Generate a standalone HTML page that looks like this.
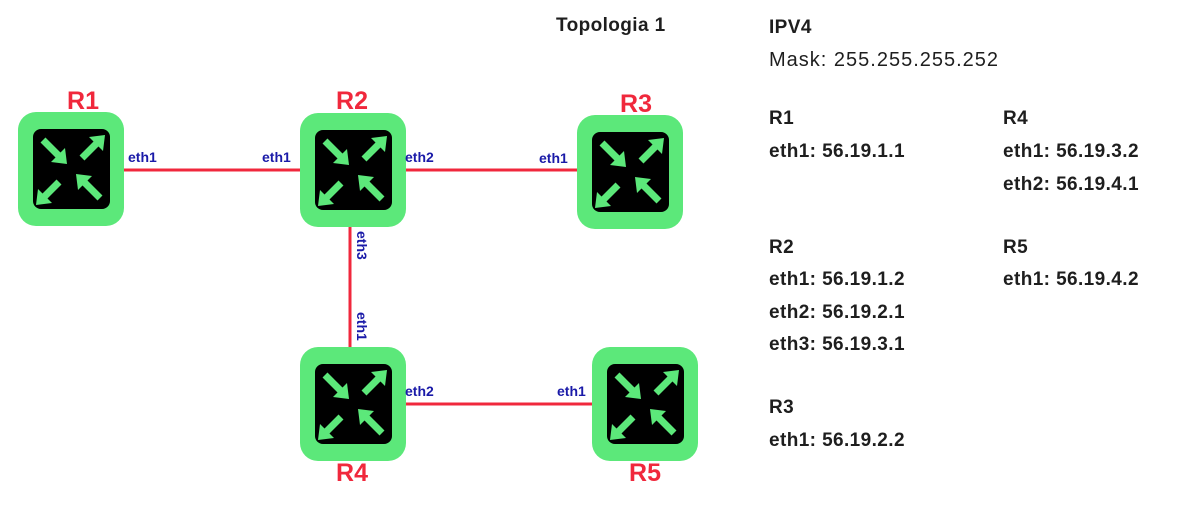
<!DOCTYPE html>
<html><head><style>
body{margin:0;background:#fff;}
svg{display:block}
.t{font-family:"Liberation Sans",sans-serif;font-size:19px;fill:#1e1e1e;letter-spacing:0.4px}
.b{font-weight:bold}
.m{font-size:20px;letter-spacing:1px}
.r{font-family:"Liberation Sans",sans-serif;font-weight:bold;font-size:25px;fill:#f0283c;text-anchor:middle}
.e{font-family:"Liberation Sans",sans-serif;font-weight:bold;font-size:14px;fill:#1a1aa8}
</style></head><body>
<svg width="1179" height="509" viewBox="0 0 1179 509" xmlns="http://www.w3.org/2000/svg">
<defs>
<g id="rt">
<rect x="0" y="0" width="106" height="114" rx="18" fill="#5ce87a"/>
<rect x="15" y="17" width="77" height="80" rx="8" fill="#000"/>
<g stroke="#5ce87a" stroke-width="7" fill="#5ce87a">
<line x1="25" y1="28" x2="41" y2="44"/><polygon points="49,52 33,50 47,36" stroke="none"/>
<line x1="80" y1="30" x2="64" y2="46"/><polygon points="87,23 71,25 85,39" stroke="none"/>
<line x1="25" y1="86" x2="41" y2="70"/><polygon points="18,93 20,77 34,91" stroke="none"/>
<line x1="82" y1="86" x2="66" y2="70"/><polygon points="58,62 74,64 60,78" stroke="none"/>
</g>
</g>
</defs>
<g stroke="#f0283c" stroke-width="3">
<line x1="124" y1="170" x2="300" y2="170"/>
<line x1="406" y1="170" x2="577" y2="170"/>
<line x1="350" y1="227" x2="350" y2="347"/>
<line x1="406" y1="404" x2="592" y2="404"/>
</g>
<use href="#rt" x="18" y="112"/>
<use href="#rt" x="300" y="113"/>
<use href="#rt" x="577" y="115"/>
<use href="#rt" x="300" y="347"/>
<use href="#rt" x="592" y="347"/>
<text class="r" x="83" y="109">R1</text>
<text class="r" x="352" y="109">R2</text>
<text class="r" x="636" y="112">R3</text>
<text class="r" x="352" y="481">R4</text>
<text class="r" x="645" y="481">R5</text>
<text class="e" x="128" y="162">eth1</text>
<text class="e" x="262" y="162">eth1</text>
<text class="e" x="405" y="162">eth2</text>
<text class="e" x="539" y="163">eth1</text>
<text class="e" x="405" y="396">eth2</text>
<text class="e" x="557" y="396">eth1</text>
<text class="e" transform="translate(357,231) rotate(90)">eth3</text>
<text class="e" transform="translate(357,312) rotate(90)">eth1</text>
<text class="t b" x="556" y="31">Topologia 1</text>
<text class="t b" x="769" y="33">IPV4</text>
<text class="t m" x="769" y="66">Mask: 255.255.255.252</text>
<text class="t b" x="769" y="124">R1</text>
<text class="t b" x="769" y="157">eth1: 56.19.1.1</text>
<text class="t b" x="1003" y="124">R4</text>
<text class="t b" x="1003" y="157">eth1: 56.19.3.2</text>
<text class="t b" x="1003" y="190">eth2: 56.19.4.1</text>
<text class="t b" x="769" y="253">R2</text>
<text class="t b" x="769" y="285">eth1: 56.19.1.2</text>
<text class="t b" x="769" y="318">eth2: 56.19.2.1</text>
<text class="t b" x="769" y="350">eth3: 56.19.3.1</text>
<text class="t b" x="1003" y="253">R5</text>
<text class="t b" x="1003" y="285">eth1: 56.19.4.2</text>
<text class="t b" x="769" y="413">R3</text>
<text class="t b" x="769" y="446">eth1: 56.19.2.2</text>
</svg>
</body></html>
